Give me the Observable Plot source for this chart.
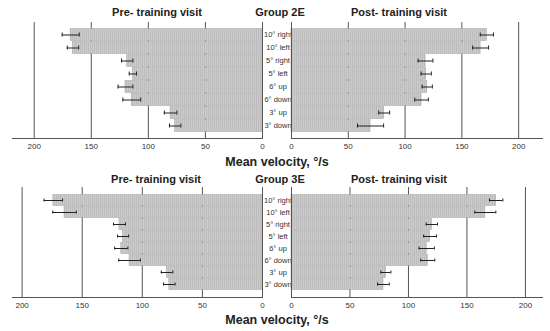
<!DOCTYPE html>
<html>
<head>
<meta charset="utf-8">
<script src="https://cdn.jsdelivr.net/npm/d3@7"></script>
<script src="https://cdn.jsdelivr.net/npm/@observablehq/plot@0.6"></script>
<style>
  html, body { margin: 0; padding: 0; background: #fff; }
  #wrap { position: relative; width: 550px; height: 331px; overflow: hidden; font-family: "Liberation Sans", Arial, sans-serif; }
  #wrap svg { position: absolute; left: 0; background: transparent; }
  .lbl { position: absolute; transform: translate(-50%, -50%); white-space: nowrap; font-weight: bold; color: #222; }
</style>
</head>
<body>
<div id="wrap"></div>
<script>
// ---- data ----
const categories = ["10° right", "10° left", "5° right", "5° left", "6° up", "6° down", "3° up", "3° down"];
const ticks = [0, 50, 100, 150, 200];
const grid = [50, 100, 150, 200];

const g2Pre = [168, 166, 118.5, 113.5, 120, 114.5, 80.5, 76.5];
const g2PreErr = [7.5, 5, 5, 3.2, 6.5, 7.8, 5.5, 5];
const g2Post = [172, 166.5, 118, 118.6, 119.5, 114.5, 81.6, 69.6];
const g2PostErr = [5.8, 7, 6.5, 4.5, 4.5, 6, 4.8, 11.5];

const g3Pre = [174, 164.7, 119, 116, 117.5, 110.6, 79.4, 77.5];
const g3PreErr = [7.7, 9.8, 5, 4.6, 5.5, 9, 4.8, 4.8];
const g3Post = [175, 165.7, 120, 118.5, 115.6, 116.5, 80.7, 78.6];
const g3PostErr = [5.7, 9, 4.8, 5.5, 6.5, 6, 4.3, 5];

const titles = { pre: "Pre- training visit", post: "Post- training visit", xLabel: "Mean velocity, °/s" };
const groups = ["Group 2E", "Group 3E"];

const wrap = document.getElementById("wrap");
let pid = 0;

function half({ values, errs, side, xMax, top, frameH, outerPad }) {
  const data = categories.map((c, i) => ({ cat: c, v: values[i], lo: values[i] - errs[i], hi: values[i] + errs[i] }));
  const id = "hatch" + (pid++);
  const left = side === "left";
  const mT = 22, mB = 17;
  const svg = Plot.plot({
    width: 550,
    height: mT + frameH + mB,
    marginTop: mT,
    marginBottom: mB,
    marginLeft: left ? 12 : 291,
    marginRight: left ? 288 : 8,
    style: { fontFamily: "Liberation Sans, Arial, sans-serif", background: "transparent", overflow: "visible" },
    x: { domain: [0, xMax], reverse: left, ticks: ticks },
    y: { domain: categories, paddingInner: 0, paddingOuter: outerPad },
    marks: [
      Plot.ruleX(grid, { stroke: "#555", strokeWidth: 1, strokeOpacity: 1 }),
      Plot.barX(data, { x: "v", y: "cat", fill: `url(#${id})`, stroke: "#a8a8a8", strokeWidth: 0.6, insetTop: 0.6, insetBottom: 0.6 }),
      Plot.ruleX([0], { stroke: "#555", strokeWidth: 1 }),
      Plot.frame({ anchor: "bottom", stroke: "#555", strokeWidth: 1 }),
      Plot.ruleY(data, { y: "cat", x1: "lo", x2: "hi", stroke: "#222", strokeWidth: 1 }),
      Plot.tickX(data, { x: "lo", y: "cat", stroke: "#222", strokeWidth: 1, insetTop: 4.5, insetBottom: 4.5 }),
      Plot.tickX(data, { x: "hi", y: "cat", stroke: "#222", strokeWidth: 1, insetTop: 4.5, insetBottom: 4.5 }),
      Plot.axisX({ ticks: ticks, tickSize: 0, tickPadding: 5, fontSize: 8, fill: "#333", label: null }),
      left
        ? Plot.axisY({ anchor: "right", tickSize: 0, tickPadding: 15.5, textAnchor: "middle", fontSize: 7.5, fill: "#333", label: null })
        : Plot.axisY({ ticks: [], label: null })
    ]
  });
  d3.select(svg).insert("defs", ":first-child").html(
    `<pattern id="${id}" patternUnits="userSpaceOnUse" width="2" height="4">` +
    `<rect width="2" height="4" fill="#cbcbcb"></rect>` +
    `<rect width="1" height="4" fill="#bdbdbd"></rect></pattern>`
  );
  svg.style.top = top + "px";
  wrap.appendChild(svg);
}

function label(text, x, y, size) {
  const d = document.createElement("div");
  d.className = "lbl";
  d.textContent = text;
  d.style.left = x + "px";
  d.style.top = y + "px";
  d.style.fontSize = size + "px";
  wrap.appendChild(d);
}

// Group 2E (top)
half({ values: g2Pre, errs: g2PreErr, side: "left", xMax: 219, top: 0, frameH: 116, outerPad: 0.43 });
half({ values: g2Post, errs: g2PostErr, side: "right", xMax: 221, top: 0, frameH: 116, outerPad: 0.43 });
// Group 3E (bottom)
half({ values: g3Pre, errs: g3PreErr, side: "left", xMax: 208, top: 165, frameH: 110, outerPad: 0.4 });
half({ values: g3Post, errs: g3PostErr, side: "right", xMax: 214.6, top: 165, frameH: 110, outerPad: 0.4 });

label(titles.pre, 157, 12, 11);
label(groups[0], 280, 12, 11);
label(titles.post, 399, 12, 11);
label(titles.xLabel, 277, 162, 12.5);

label(titles.pre, 156, 179, 11);
label(groups[1], 280, 179, 11);
label(titles.post, 399, 179, 11);
label(titles.xLabel, 277, 320, 12.5);
</script>
</body>
</html>
